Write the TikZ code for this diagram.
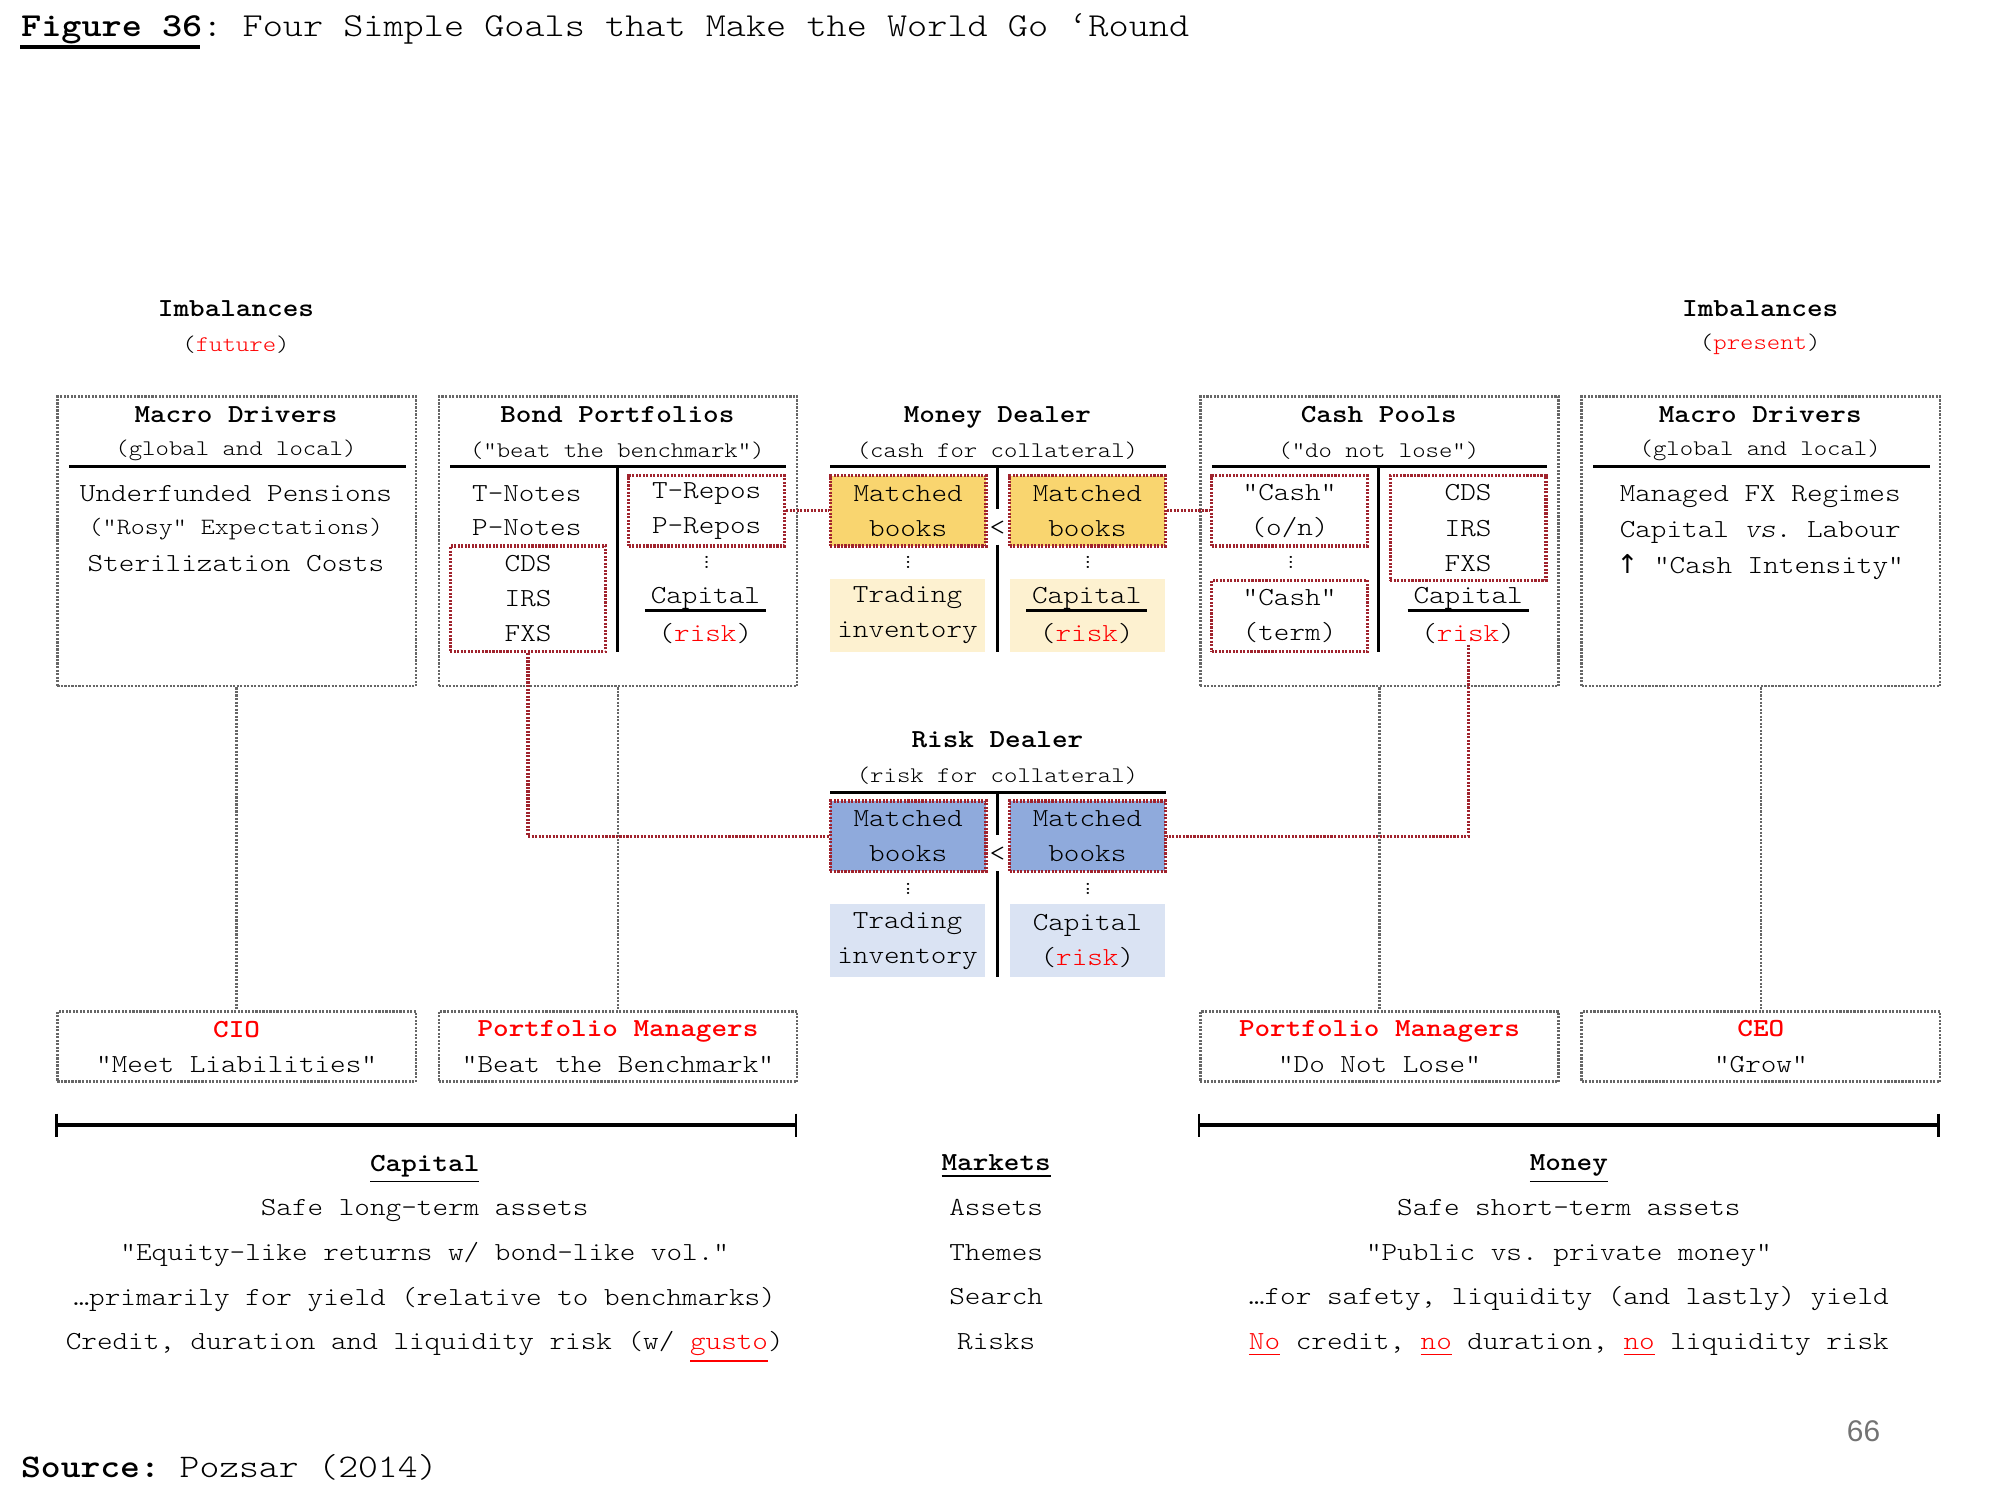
\documentclass[tikz,border=0pt]{standalone}
\usepackage{fontspec}
\setmonofont{lmmonolt10-regular.otf}[BoldFont=lmmonolt10-bold.otf,ItalicFont=lmmonolt10-oblique.otf,BoldItalicFont=lmmonolt10-boldoblique.otf,FakeStretch=1.143]
\newfontfamily\arrowfont{DejaVu Sans}
\newfontfamily\foliofont{Liberation Sans}
\usetikzlibrary{positioning}
\usetikzlibrary{calc}

\definecolor{linkred}{RGB}{160,35,45}
\definecolor{gold}{RGB}{249,213,111}
\definecolor{palegold}{RGB}{253,241,208}
\definecolor{steel}{RGB}{143,170,220}
\definecolor{palesteel}{RGB}{218,227,243}

\newcommand{\px}{0.012755cm}
\newcommand{\bodyfs}{\ttfamily\fontsize{7.4pt}{9.98pt}\selectfont}
\newcommand{\subfs}{\fontsize{6.35pt}{8pt}\selectfont}
\newcommand{\bigfs}{\fontsize{9.55pt}{12pt}\selectfont}
\newcommand{\hot}[1]{\textcolor{red}{#1}}
\newcommand{\dotglyph}{\hbox{\fontsize{5.5pt}{5.5pt}\selectfont.}}
\newcommand{\tinydots}{\vbox{\baselineskip=1.3pt\lineskiplimit=-10pt\dotglyph\dotglyph\dotglyph}}

\begin{document}
\begin{tikzpicture}[x=\px,y=-\px,font=\bodyfs,inner sep=0pt]
\tikzstyle{panel}=[draw=black!60,dash pattern=on 0.6pt off 0.4pt,line width=0.7pt,minimum width=281*\px,minimum height=227*\px]
\tikzstyle{role}=[panel,minimum height=55*\px,align=center]
\tikzstyle{book}=[draw=linkred,dash pattern=on 0.6pt off 0.4pt,line width=0.9pt,align=center,minimum width=122*\px,minimum height=55*\px]
\tikzstyle{stock}=[align=center,minimum width=122*\px,minimum height=57*\px]
\tikzstyle{flat}=[text depth=0pt]
\tikzstyle{rule}=[line width=0.85pt]
\tikzstyle{link}=[draw=black!60,dash pattern=on 0.6pt off 0.4pt,line width=0.7pt]
\tikzstyle{redlink}=[draw=linkred,dash pattern=on 0.6pt off 0.4pt,line width=0.9pt]
\tikzstyle{span}=[line width=1.3pt]
\tikzstyle{column}=[anchor=north,align=center,font=\ttfamily\fontsize{7.4pt}{12.7pt}\selectfont]

\useasboundingbox (0,0) rectangle (1568,1176);

% title
\node[anchor=base west,font=\ttfamily\bigfs] (fig) at (16,29) {\bfseries Figure 36\mdseries: Four Simple Goals that Make the World Go ‘Round};
\draw[span] ($(fig.base west)+(0,8)$) -- +(141,0);

\node (imbF) at (185,242) {\bfseries Imbalances};
\node[font=\ttfamily\subfs] (imbFs) at (185,270) {(\hot{future})};
\node (imbP) at (1380,242) {\bfseries Imbalances};
\node[font=\ttfamily\subfs] (imbPs) at (1380,270) {(\hot{present})};

% panels
\node[panel] (macroL) at (185.5,424.5) {};
\node[panel] (bonds) at (484.5,424.5) {};
\node[panel] (cash) at (1081.5,424.5) {};
\node[panel] (macroR) at (1380.5,424.5) {};

% macro drivers (future)
\node (mlHead) at (185,325) {\bfseries Macro Drivers};
\node[font=\ttfamily\subfs] (mlSub) at (185,353) {(global and local)};
\draw[rule] (54,366) -- (318,366);
\node (ml1) at (185,387) {Underfunded Pensions};
\node[font=\ttfamily\fontsize{6.65pt}{8pt}\selectfont] (ml2) at (185,415) {("Rosy" Expectations)};
\node (ml3) at (185,442) {Sterilization Costs};

% bond portfolios
\node (bpHead) at (484,325) {\bfseries Bond Portfolios};
\node[font=\ttfamily\subfs] (bpSub) at (484,353) {("beat the benchmark")};
\draw[rule] (353,366) -- (616,366);
\draw[rule] (484,366) -- (484,511);
\node (notesT) at (413,387) {T-Notes};
\node (notesP) at (413,414) {P-Notes};
\node[book,minimum height=83*\px] (swapB) at (414,469.5) {CDS\\IRS\\FXS};
\node[book] (repoB) at (554,400.5) {T-Repos\\P-Repos};
\node (dotsB) at (554,441) {\tinydots};
\node (capB) at (553,469) {Capital};
\draw[rule] ($(capB.south west)+(-4,0.5)$) -- ($(capB.south east)+(4,0.5)$);
\node (riskB) at (553,497) {(\hot{risk})};

% money dealer
\node[flat] (mdHead) at (782,325) {\bfseries Money Dealer};
\node[font=\ttfamily\subfs] (mdSub) at (782,353) {(cash for collateral)};
\draw[rule] (651,366) -- (914,366);
\draw[rule] (782,366) -- (782,399);
\draw[rule] (782,427) -- (782,511);
\node (mdLess) at (782,414) {<};
\node[book,fill=gold] (mdL) at (712,400.5) {Matched\\books};
\node[book,fill=gold] (mdR) at (852.5,400.5) {Matched\\books};
\node (mdDotsL) at (712,441) {\tinydots};
\node (mdDotsR) at (853,441) {\tinydots};
\node[stock,fill=palegold] (mdInv) at (711.5,482.5) {Trading\\inventory};
\node[stock,fill=palegold] (mdCap) at (852.5,482.5) {};
\node (capM) at (852,469) {Capital};
\draw[rule] ($(capM.south west)+(-4,0.5)$) -- ($(capM.south east)+(4,0.5)$);
\node (riskM) at (852,497) {(\hot{risk})};

% cash pools
\node (cpHead) at (1081,325) {\bfseries Cash Pools};
\node[font=\ttfamily\subfs] (cpSub) at (1081,353) {("do not lose")};
\draw[rule] (950,366) -- (1213,366);
\draw[rule] (1081,366) -- (1081,511);
\node[book] (cashON) at (1011,400.5) {"Cash"\\(o/n)};
\node (dotsC) at (1012,441) {\tinydots};
\node[book,minimum height=56*\px] (cashTerm) at (1011,483) {"Cash"\\(term)};
\node[book,minimum height=82*\px] (swapC) at (1151,414) {CDS\\IRS\\FXS};
\node (capC) at (1151,469) {Capital};
\draw[rule] ($(capC.south west)+(-4,0.5)$) -- ($(capC.south east)+(4,0.5)$);
\node (riskC) at (1151,497) {(\hot{risk})};

% macro drivers (present)
\node (mrHead) at (1380,325) {\bfseries Macro Drivers};
\node[font=\ttfamily\subfs] (mrSub) at (1380,353) {(global and local)};
\draw[rule] (1249,366) -- (1513,366);
\node[flat] (mr1) at (1380,387) {Managed FX Regimes};
\node[flat] (mr2) at (1380,415) {Capital \textit{vs}. Labour};
\node[flat] (mr3) at (1380,442) {{\arrowfont ↑} "Cash Intensity"};

% risk dealer
\node (rdHead) at (782,580) {\bfseries Risk Dealer};
\node[font=\ttfamily\subfs] (rdSub) at (782,608) {(risk for collateral)};
\draw[rule] (651,621) -- (914,621);
\draw[rule] (782,621) -- (782,655);
\draw[rule] (782,683) -- (782,766);
\node (rdLess) at (782,670) {<};
\node[book,fill=steel] (rdL) at (712,655.5) {Matched\\books};
\node[book,fill=steel] (rdR) at (852.5,655.5) {Matched\\books};
\node (rdDotsL) at (712,697) {\tinydots};
\node (rdDotsR) at (853,697) {\tinydots};
\node[stock,fill=palesteel] (rdInv) at (711.5,737.5) {Trading\\inventory};
\node[stock,fill=palesteel] (rdCap) at (852.5,737.5) {Capital\\(\hot{risk})};

% roles
\node[role] (cio) at (185.5,820.5) {\textcolor{red}{\bfseries CIO}\\"Meet Liabilities"};
\node[role] (pmBond) at (484.5,820.5) {\textcolor{red}{\bfseries Portfolio Managers}\\"Beat the Benchmark"};
\node[role] (pmCash) at (1081.5,820.5) {\textcolor{red}{\bfseries Portfolio Managers}\\"Do Not Lose"};
\node[role] (ceo) at (1380.5,820.5) {\textcolor{red}{\bfseries CEO}\\"Grow"};

% links
\draw[link] (macroL.south) -- (cio.north);
\draw[link] (bonds.south) -- (pmBond.north);
\draw[link] (cash.south) -- (pmCash.north);
\draw[link] (macroR.south) -- (ceo.north);
\draw[redlink] (repoB.east) -- (mdL.west);
\draw[redlink] (mdR.east) -- (cashON.west);
\draw[redlink] (swapB.south) |- (rdL.west);
\draw[redlink] (riskC.south) |- (rdR.east);

% spans
\coordinate (capL) at (44,882);
\coordinate (capR) at (624,882);
\coordinate (monL) at (940,882);
\coordinate (monR) at (1520,882);
\draw[span] (capL) -- (capR);
\draw[span] (monL) -- (monR);
\foreach \c in {capL,capR,monL,monR}
  \draw[line width=0.8pt] ($(\c)+(0,-9)$) -- ($(\c)+(0,9)$);

% columns
\node[column] (capCol) at (333,905) {\underline{\bfseries Capital}\\Safe long-term assets\\"Equity-like returns w/ bond-like vol."\\…primarily for yield (relative to benchmarks)\\Credit, duration and liquidity risk (w/ \hot{\underline{gusto}})};
\node[column] (mktCol) at (781,905) {\underline{\bfseries Markets}\\Assets\\Themes\\Search\\Risks};
\node[column] (monCol) at (1230,905) {\underline{\bfseries Money}\\Safe short-term assets\\"Public vs. private money"\\…for safety, liquidity (and lastly) yield\\\hot{\underline{No}} credit, \hot{\underline{no}} duration, \hot{\underline{no}} liquidity risk};

% footer
\node[font=\foliofont\fontsize{8.5pt}{10pt}\selectfont,text=black!55] (folio) at (1461,1122) {66};
\node[anchor=base west,font=\ttfamily\fontsize{9.4pt}{12pt}\selectfont] (src) at (16,1158) {\bfseries Source:\mdseries{} Pozsar (2014)};
\end{tikzpicture}
\end{document}
